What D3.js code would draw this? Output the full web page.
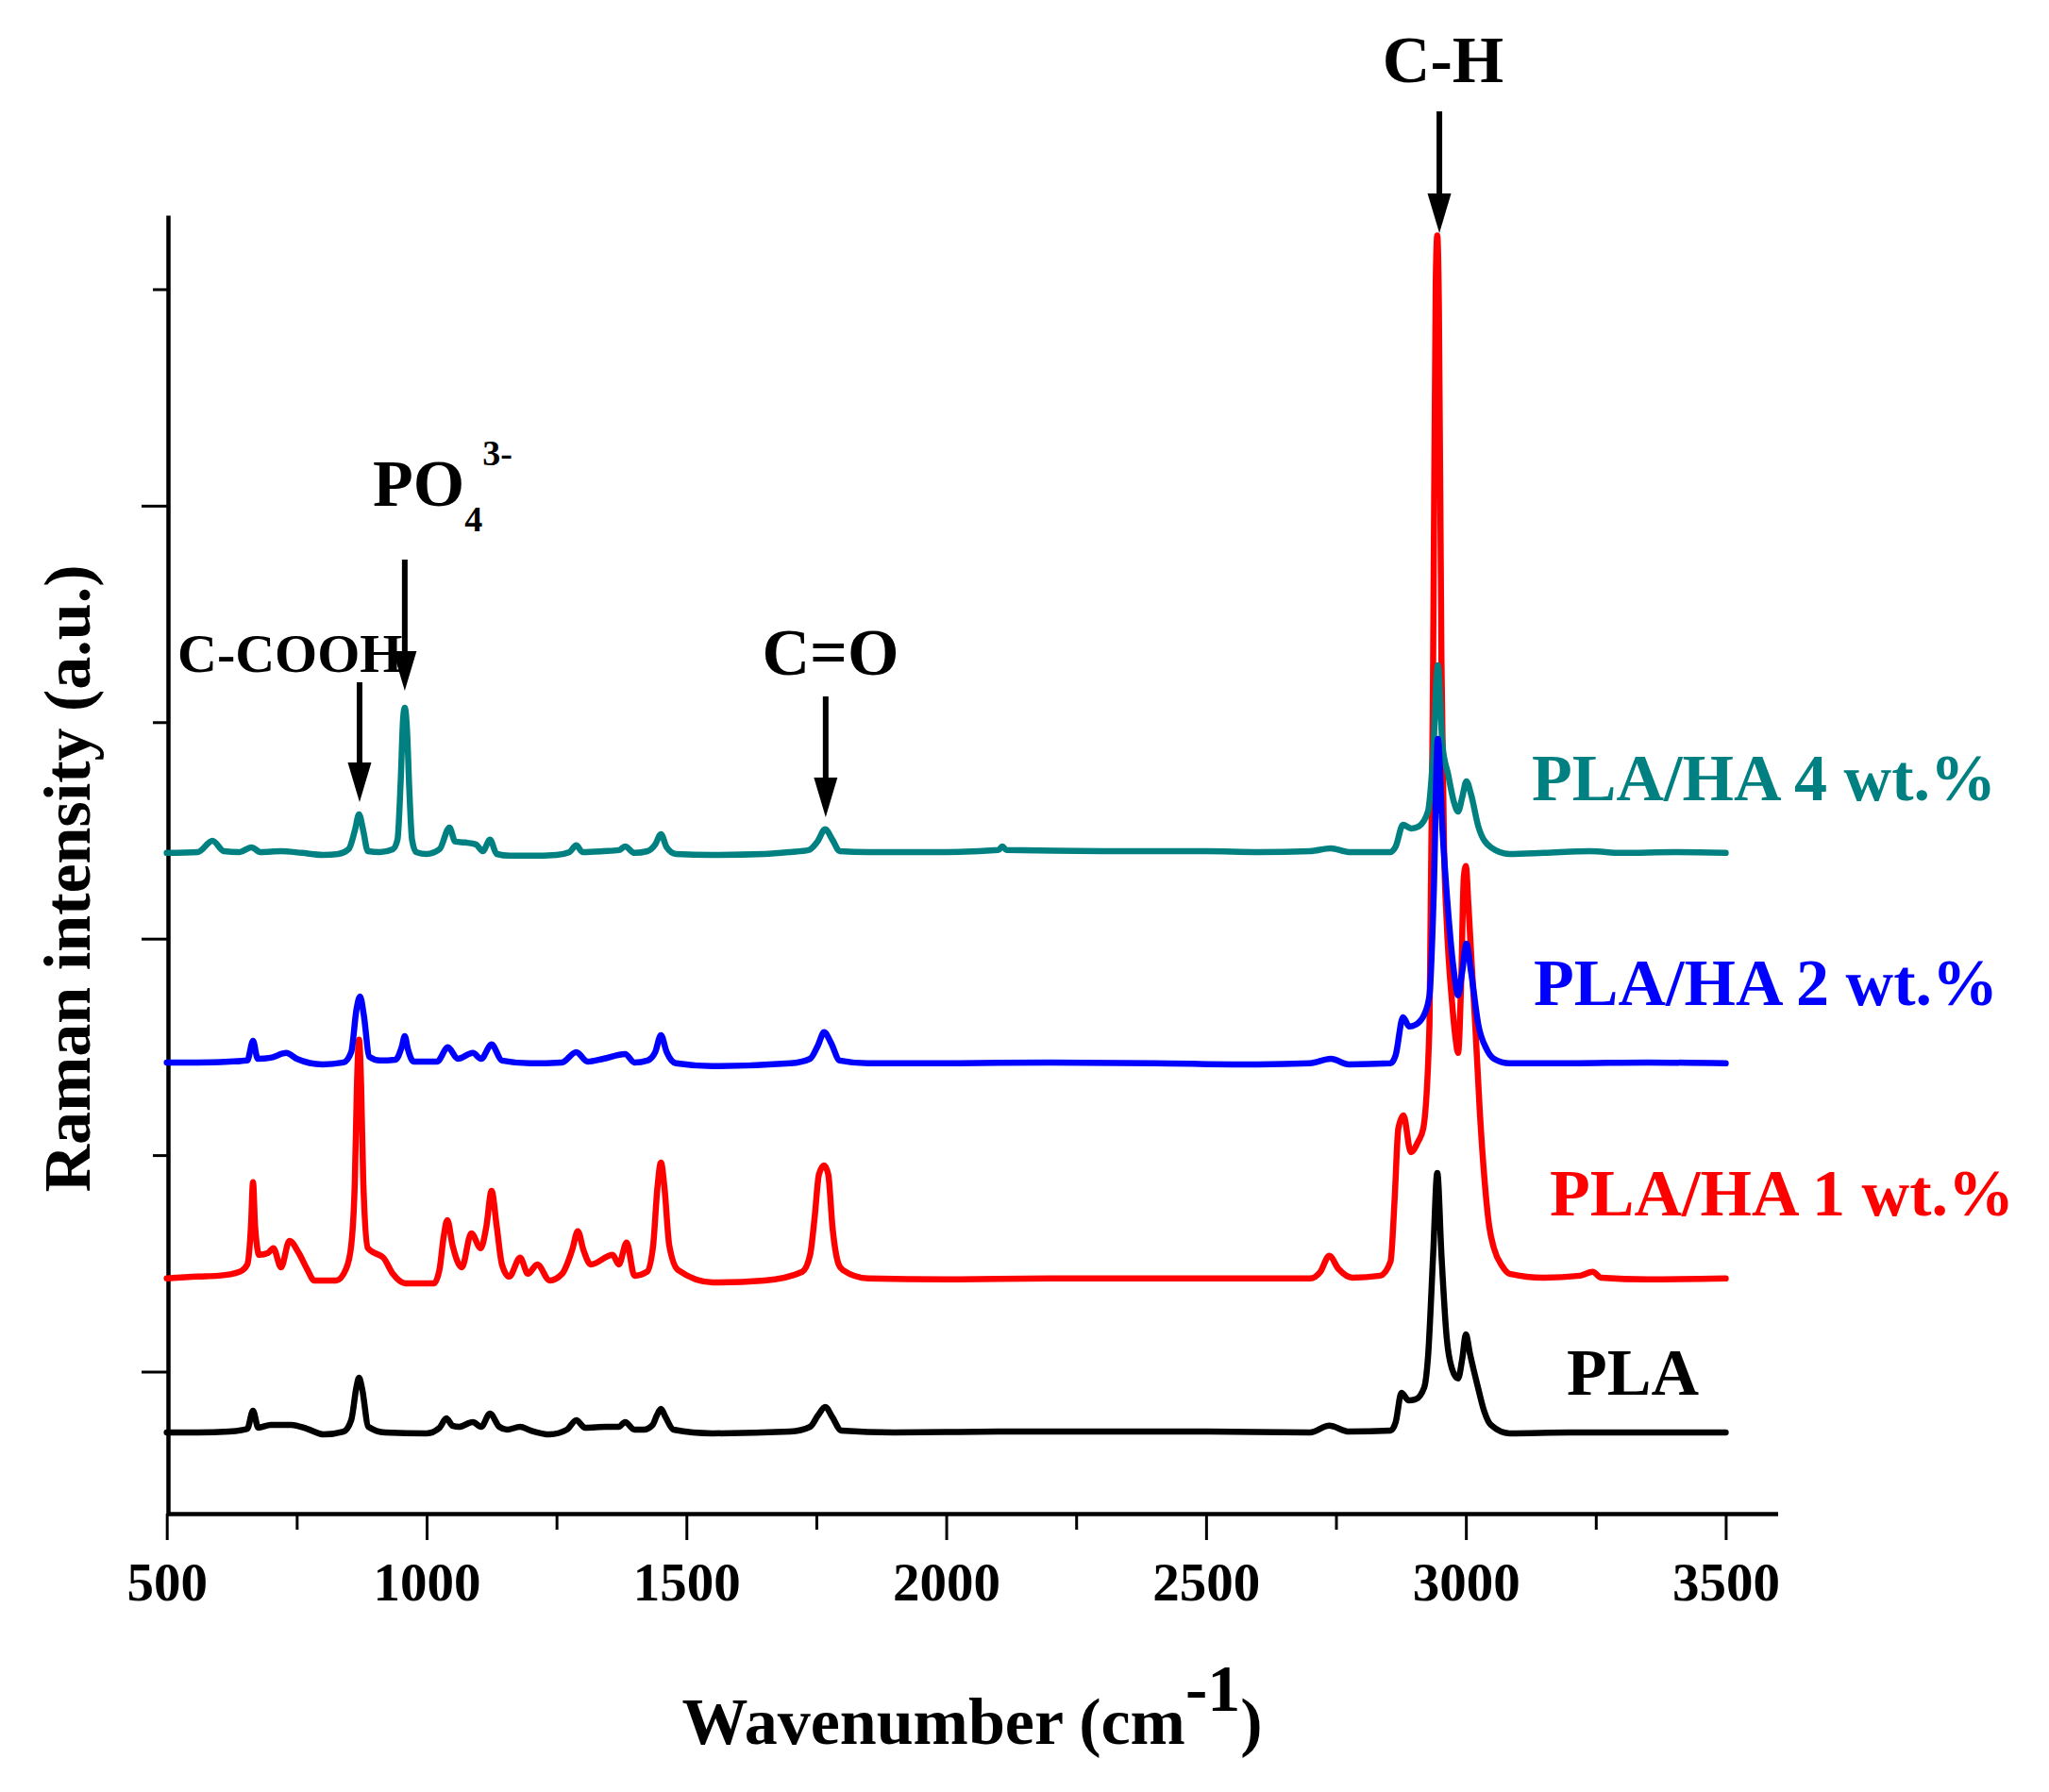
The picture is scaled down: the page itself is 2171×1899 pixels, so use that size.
<!DOCTYPE html>
<html><head><meta charset="utf-8">
<script src="https://cdn.jsdelivr.net/npm/d3@7"></script>
<style>
body{margin:0;background:#fff}
svg{display:block;background:#fff}
text{font-family:"Liberation Serif","Times New Roman",serif;font-weight:bold}
</style></head>
<body><svg id="chart" width="2171" height="1899"></svg>
<script>
// ---------------- DATA ----------------
const xMajorTicks = [500, 1000, 1500, 2000, 2500, 3000, 3500];
const xMinorTicks = [750, 1250, 1750, 2250, 2750, 3250];
const yMajorTicks = [1000, 3000, 5000];
const yMinorTicks = [2000, 4000, 6000];

const seriesNames  = ["PLA", "PLA/HA 1 wt.%", "PLA/HA 2 wt.%", "PLA/HA 4 wt.%"];
const seriesColors = ["#000000", "#ff0000", "#0000ff", "#008080"];

// [wavenumber (cm-1), Raman intensity (a.u., offset as plotted)]
const PLA = [
[500,719],[560,719],[620,723],[655,736],[666,819],[676,741],[700,754],[740,754],[770,736],[802,710],
[840,723],[855,776],[865,928],[870,972],[876,920],[888,745],[920,719],[1000,715],[1025,741],[1038,784],
[1050,750],[1062,745],[1089,767],[1105,745],[1122,806],[1140,745],[1155,732],[1180,745],[1200,728],[1237,710],
[1270,732],[1288,776],[1305,741],[1346,745],[1370,745],[1382,767],[1400,732],[1418,732],[1435,754],[1443,797],
[1451,828],[1460,789],[1475,732],[1550,715],[1700,723],[1738,745],[1753,797],[1767,837],[1781,789],[1798,728],
[1900,719],[2100,723],[2300,723],[2500,723],[2700,719],[2737,750],[2775,723],[2855,728],[2865,767],[2876,902],
[2890,867],[2903,872],[2920,928],[2927,1063],[2937,1539],[2945,1918],[2953,1539],[2963,1159],[2973,1015],[2985,968],
[2993,1059],[3000,1172],[3008,1081],[3024,920],[3035,819],[3048,754],[3084,715],[3200,719],[3350,719],[3500,719]
];

const PLA_HA1 = [
[500,1430],[560,1439],[600,1443],[640,1461],[655,1495],[662,1670],[666,1875],[670,1670],[678,1539],[695,1548],
[705,1570],[720,1482],[736,1604],[754,1548],[770,1474],[784,1421],[826,1421],[845,1474],[855,1583],[862,1888],
[866,2324],[870,2533],[874,2324],[878,1888],[887,1570],[900,1548],[917,1526],[935,1452],[959,1408],[1014,1408],
[1025,1474],[1033,1626],[1040,1700],[1050,1583],[1068,1482],[1086,1639],[1104,1570],[1115,1670],[1125,1835],[1135,1670],
[1145,1495],[1159,1439],[1180,1526],[1195,1452],[1213,1495],[1237,1421],[1261,1452],[1280,1561],[1291,1648],[1302,1561],
[1316,1495],[1358,1539],[1370,1495],[1385,1596],[1400,1443],[1424,1461],[1436,1583],[1444,1844],[1451,1966],[1458,1844],
[1467,1583],[1484,1469],[1551,1412],[1650,1421],[1723,1461],[1738,1539],[1747,1718],[1755,1910],[1765,1953],[1773,1910],
[1781,1670],[1793,1495],[1801,1469],[1850,1430],[2000,1426],[2200,1430],[2400,1430],[2600,1430],[2700,1430],[2720,1461],
[2737,1535],[2755,1474],[2782,1434],[2835,1443],[2855,1508],[2863,1801],[2870,2123],[2880,2184],[2894,2014],[2908,2062],
[2918,2123],[2930,2603],[2937,4286],[2942,6030],[2945,6248],[2948,5943],[2953,4286],[2958,3414],[2963,3082],[2973,2716],
[2980,2542],[2985,2472],[2991,2803],[2996,3283],[3000,3335],[3005,3152],[3011,2891],[3018,2603],[3027,2193],[3036,1883],
[3045,1670],[3054,1570],[3070,1487],[3084,1452],[3150,1434],[3220,1443],[3244,1461],[3260,1434],[3350,1426],[3500,1430]
];

const PLA_HA2 = [
[500,2428],[560,2428],[620,2432],[655,2437],[666,2528],[675,2445],[700,2450],[730,2472],[750,2445],[800,2419],
[840,2428],[855,2476],[865,2672],[872,2733],[879,2650],[890,2454],[910,2437],[940,2441],[952,2498],[958,2550],
[964,2489],[975,2432],[1020,2432],[1041,2498],[1060,2445],[1089,2472],[1105,2445],[1125,2511],[1145,2437],[1200,2424],
[1260,2428],[1288,2476],[1310,2432],[1340,2445],[1382,2467],[1400,2428],[1425,2437],[1440,2476],[1451,2554],[1462,2476],
[1480,2424],[1550,2411],[1700,2424],[1738,2445],[1753,2506],[1765,2568],[1778,2520],[1795,2437],[1850,2424],[2000,2424],
[2200,2428],[2400,2424],[2600,2419],[2700,2424],[2740,2445],[2775,2419],[2855,2424],[2865,2463],[2879,2637],[2891,2594],
[2903,2602],[2920,2650],[2930,2738],[2938,3195],[2946,3923],[2955,3501],[2965,3152],[2977,2847],[2985,2738],[2993,2847],
[3001,2977],[3010,2847],[3024,2602],[3040,2489],[3054,2445],[3084,2424],[3200,2424],[3350,2428],[3500,2424]
];

const PLA_HA4 = [
[500,3396],[560,3400],[588,3452],[610,3404],[640,3400],[663,3422],[680,3400],[720,3404],[760,3396],[800,3387],
[830,3391],[850,3413],[862,3500],[870,3574],[878,3500],[887,3404],[910,3400],[935,3413],[944,3457],[950,3718],
[955,4023],[958,4067],[962,3980],[967,3675],[972,3457],[980,3400],[1000,3391],[1025,3413],[1044,3513],[1055,3448],
[1075,3444],[1095,3435],[1108,3404],[1122,3457],[1135,3391],[1160,3383],[1200,3383],[1250,3387],[1275,3400],[1288,3431],
[1300,3400],[1340,3404],[1370,3409],[1382,3426],[1400,3396],[1425,3404],[1440,3435],[1451,3483],[1462,3422],[1480,3391],
[1550,3387],[1650,3391],[1700,3400],[1735,3409],[1752,3448],[1767,3505],[1781,3457],[1795,3404],[1850,3400],[2000,3400],
[2100,3409],[2108,3426],[2116,3409],[2300,3404],[2500,3404],[2600,3400],[2700,3404],[2740,3417],[2775,3400],[2855,3400],
[2865,3426],[2879,3526],[2895,3509],[2909,3518],[2927,3587],[2937,3849],[2946,4263],[2955,3893],[2966,3758],[2977,3631],
[2985,3587],[2993,3653],[3001,3727],[3010,3666],[3024,3518],[3048,3422],[3084,3391],[3150,3396],[3240,3404],[3300,3396],
[3400,3400],[3500,3396]
];

const annotationLabels = ["C-COOH", "PO4", "C=O", "C-H"];
const annotationWavenumbers = [871, 958, 1768, 2949];

// ---------------- CHART ----------------
const svg = d3.select("#chart");
const x = d3.scaleLinear().domain([500, 3600]).range([176.7, 1883.5]);
const y = d3.scaleLinear().domain([344, 6342]).range([1604, 228]);

// axes
const gx = svg.append("g").attr("transform", "translate(0,1604)");
gx.call(d3.axisBottom(x).tickValues(xMinorTicks).tickSize(17).tickSizeOuter(0).tickFormat(""));
gx.call(g => g.select(".domain").remove());
const gx2 = svg.append("g").attr("transform", "translate(0,1604)");
gx2.call(d3.axisBottom(x).tickValues(xMajorTicks).tickSize(28).tickSizeOuter(0).tickFormat(d3.format("d")));
gx2.selectAll("text").attr("y", 92).attr("dy", 0).attr("font-size", 57)
   .attr("font-family", "Liberation Serif, Times New Roman, serif").attr("font-weight", "bold").attr("fill", "#000");
gx2.select(".domain").attr("stroke", "#000").attr("stroke-width", 4.5);

const gy = svg.append("g").attr("transform", "translate(178,0)");
gy.call(d3.axisLeft(y).tickValues(yMinorTicks).tickSize(16).tickSizeOuter(0).tickFormat(""));
gy.call(g => g.select(".domain").remove());
const gy2 = svg.append("g").attr("transform", "translate(178,0)");
gy2.call(d3.axisLeft(y).tickValues(yMajorTicks).tickSize(28).tickSizeOuter(0).tickFormat(""));
gy2.select(".domain").attr("stroke", "#000").attr("stroke-width", 4.5);
svg.selectAll(".tick line").attr("stroke", "#000").attr("stroke-width", 3);

// spectra
const line = d3.line().x(d => x(d[0])).y(d => y(d[1])).curve(d3.curveMonotoneX);
const allSeries = [PLA, PLA_HA1, PLA_HA2, PLA_HA4];
const drawOrder = [0, 1, 3, 2];
drawOrder.forEach(i => {
  svg.append("path").datum(allSeries[i]).attr("d", line)
    .attr("fill", "none").attr("stroke", seriesColors[i]).attr("stroke-width", 6.5)
    .attr("stroke-linejoin", "round").attr("stroke-linecap", "round");
});

// series labels
const labelPos = [[1660, 1478], [1642, 1288], [1625, 1065], [1623, 848]];
seriesNames.forEach((n, i) => {
  svg.append("text").attr("x", labelPos[i][0]).attr("y", labelPos[i][1])
    .attr("font-size", 70).attr("fill", seriesColors[i]).text(n);
});

// annotation arrows
const arrowGeom = [[723, 850], [593, 732], [738, 866], [118, 247]];
annotationWavenumbers.forEach((wn, i) => {
  const ax = x(wn), top = arrowGeom[i][0], tip = arrowGeom[i][1];
  svg.append("line").attr("x1", ax).attr("x2", ax).attr("y1", top).attr("y2", tip - 30)
    .attr("stroke", "#000").attr("stroke-width", 6);
  svg.append("path").attr("d", `M${ax - 12.5},${tip - 42}L${ax + 12.5},${tip - 42}L${ax},${tip}Z`).attr("fill", "#000");
});

// annotation texts
svg.append("text").attr("x", 188).attr("y", 712).attr("font-size", 58).text(annotationLabels[0]);
const po = svg.append("text").attr("x", 395).attr("y", 536).attr("font-size", 70);
po.append("tspan").text("PO");
po.append("tspan").attr("font-size", 38).attr("dy", 27).text("4");
po.append("tspan").attr("font-size", 38).attr("dy", -70).text("3-");
svg.append("text").attr("x", 880).attr("y", 715).attr("font-size", 70).attr("text-anchor", "middle").text(annotationLabels[2]);
svg.append("text").attr("x", 1529).attr("y", 87).attr("font-size", 70).attr("text-anchor", "middle").text(annotationLabels[3]);

// axis titles
const xt = svg.append("text").attr("x", 1030).attr("y", 1848).attr("font-size", 70).attr("text-anchor", "middle");
xt.append("tspan").text("Wavenumber (cm");
xt.append("tspan").attr("dy", -35).text("-1");
xt.append("tspan").attr("dy", 35).text(")");

svg.append("text").attr("transform", "translate(95,931) rotate(-90)").attr("font-size", 70)
  .attr("text-anchor", "middle").text("Raman intensity (a.u.)");
</script>
</body></html>
